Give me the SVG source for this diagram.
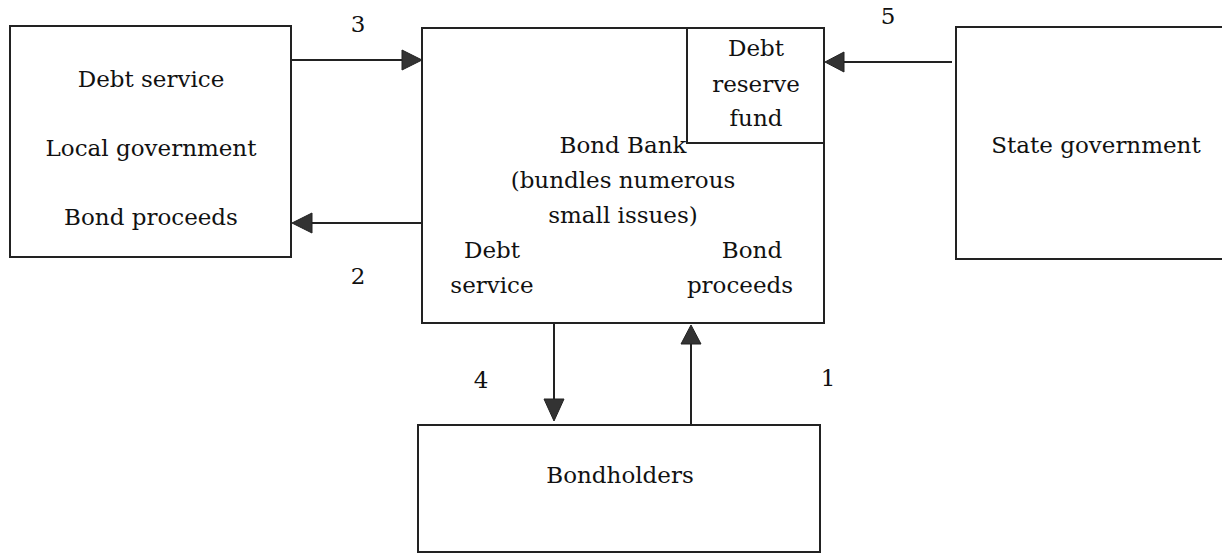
<svg xmlns="http://www.w3.org/2000/svg" width="1222" height="555" viewBox="0 0 1222 555">
<style>
.box{fill:none;stroke:#222;stroke-width:2}
.ln{fill:none;stroke:#222;stroke-width:2}
.ah{fill:#333;stroke:#222;stroke-width:1}
text{font-family:"DejaVu Serif","Liberation Serif",serif;font-size:23px;fill:#111;text-anchor:middle}
</style>
<rect width="1222" height="555" fill="#fff"/>
<g id="local-government">
<rect class="box" x="10" y="26" width="281" height="231"/>
<text x="151" y="87">Debt service</text>
<text x="151" y="156">Local government</text>
<text x="151" y="225">Bond proceeds</text>
</g>
<g id="bond-bank">
<rect class="box" x="422" y="28" width="402" height="295"/>
<text x="623" y="153">Bond Bank</text>
<text x="623" y="188">(bundles numerous</text>
<text x="623" y="223">small issues)</text>
<text x="492" y="258">Debt</text>
<text x="492" y="293">service</text>
<text x="752" y="258">Bond</text>
<text x="740" y="293">proceeds</text>
</g>
<g id="debt-reserve-fund">
<polyline class="box" points="687,28 687,143 824,143"/>
<text x="756" y="56">Debt</text>
<text x="756" y="92">reserve</text>
<text x="756" y="126">fund</text>
</g>
<g id="state-government">
<polyline class="box" points="1222,27 956,27 956,259 1222,259"/>
<text x="1096" y="153">State government</text>
</g>
<g id="bondholders">
<rect class="box" x="418" y="425" width="402" height="127"/>
<text x="620" y="483">Bondholders</text>
</g>
<g id="connectors">
<line class="ln" x1="291" y1="60" x2="404" y2="60"/>
<polygon class="ah" points="422,60 402,50 402,70"/>
<line class="ln" x1="422" y1="223" x2="310" y2="223"/>
<polygon class="ah" points="292,223 312,213 312,233"/>
<line class="ln" x1="952" y1="62" x2="842" y2="62"/>
<polygon class="ah" points="825,62 844,52 844,72"/>
<line class="ln" x1="554" y1="323" x2="554" y2="401"/>
<polygon class="ah" points="554,421 544,399 564,399"/>
<line class="ln" x1="691" y1="425" x2="691" y2="342"/>
<polygon class="ah" points="691,325 681,344 701,344"/>
<text x="358" y="32">3</text>
<text x="358" y="284">2</text>
<text x="888" y="24">5</text>
<text x="481" y="388">4</text>
<text x="828" y="386">1</text>
</g>
</svg>
